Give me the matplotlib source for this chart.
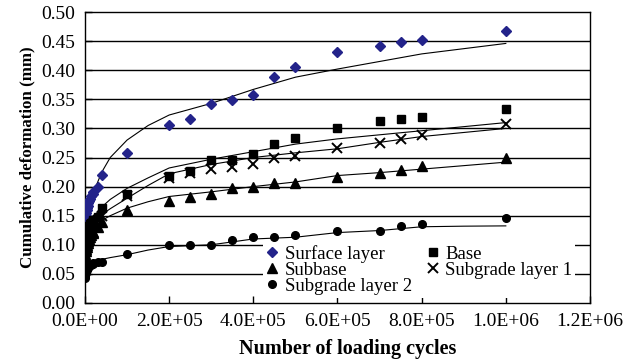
# cumulative deformation vs loading cycles, one series per layer
import matplotlib
matplotlib.use('Agg')
import matplotlib.pyplot as plt
from matplotlib.ticker import FuncFormatter, MultipleLocator

plt.rcParams['font.family'] = ['Liberation Serif', 'DejaVu Serif']

# measured points (loading cycles)
n_meas = [100, 500, 1000, 2000, 3000, 4000, 5000, 6000, 8000, 10000, 12000, 15000,
          18000, 20000, 30000, 40000, 100000, 200000, 250000, 300000, 350000, 400000,
          450000, 500000, 600000, 700000, 750000, 800000, 1000000]

surface = [0.130, 0.138, 0.143, 0.150, 0.155, 0.159, 0.163, 0.166, 0.171, 0.175, 0.179, 0.184,
           0.188, 0.191, 0.200, 0.220, 0.257, 0.306, 0.316, 0.342, 0.349, 0.358,
           0.388, 0.405, 0.432, 0.441, 0.448, 0.452, 0.468]
base = [0.100, 0.105, 0.108, 0.112, 0.116, 0.119, 0.122, 0.125, 0.129, 0.132, 0.135, 0.138,
        0.141, 0.143, 0.148, 0.163, 0.187, 0.219, 0.227, 0.245, 0.245, 0.256,
        0.274, 0.284, 0.300, 0.312, 0.316, 0.320, 0.333]
subbase = [0.075, 0.080, 0.084, 0.089, 0.093, 0.097, 0.100, 0.103, 0.107, 0.110, 0.113, 0.117,
           0.120, 0.122, 0.130, 0.140, 0.159, 0.175, 0.182, 0.187, 0.197, 0.200,
           0.206, 0.206, 0.216, 0.224, 0.229, 0.236, 0.249]
subgrade1 = [0.090, 0.095, 0.099, 0.104, 0.108, 0.111, 0.114, 0.117, 0.121, 0.124, 0.127, 0.131,
             0.134, 0.136, 0.142, 0.150, 0.183, 0.214, 0.224, 0.231, 0.234, 0.238,
             0.250, 0.253, 0.266, 0.275, 0.282, 0.289, 0.307]
subgrade2 = [0.043, 0.046, 0.049, 0.052, 0.055, 0.057, 0.059, 0.060, 0.062, 0.064, 0.065, 0.066,
             0.067, 0.068, 0.070, 0.071, 0.084, 0.100, 0.100, 0.100, 0.109, 0.113,
             0.113, 0.116, 0.124, 0.124, 0.132, 0.135, 0.146]

# predicted curves
n_pred = [1000, 5000, 10000, 20000, 40000, 60000, 100000, 150000, 200000, 300000, 400000,
          500000, 600000, 700000, 800000, 900000, 1000000]
surface_pred = [0.130, 0.150, 0.165, 0.190, 0.225, 0.250, 0.280, 0.305, 0.323, 0.343, 0.367,
                0.388, 0.402, 0.415, 0.428, 0.437, 0.446]
base_pred = [0.105, 0.125, 0.135, 0.148, 0.165, 0.178, 0.197, 0.215, 0.232, 0.247, 0.260,
             0.273, 0.282, 0.289, 0.296, 0.303, 0.310]
subgrade1_pred = [0.100, 0.118, 0.128, 0.140, 0.152, 0.162, 0.180, 0.202, 0.222, 0.238, 0.250,
                  0.258, 0.265, 0.276, 0.286, 0.293, 0.300]
subbase_pred = [0.090, 0.108, 0.118, 0.128, 0.142, 0.150, 0.163, 0.174, 0.183, 0.191, 0.200,
                0.208, 0.219, 0.224, 0.230, 0.236, 0.242]
subgrade2_pred = [0.055, 0.063, 0.066, 0.070, 0.075, 0.078, 0.083, 0.091, 0.097, 0.100, 0.110,
                  0.113, 0.121, 0.1245, 0.131, 0.132, 0.1325]

fig = plt.figure(figsize=(6.31, 3.64), dpi=100)
ax = fig.add_axes([0.1347, 0.1676, 0.8003, 0.7994])

for yv in [0.05, 0.10, 0.15, 0.20, 0.25, 0.30, 0.35, 0.40, 0.45]:
    ax.axhline(yv, color='black', lw=1.0, zorder=1)

for pred in [surface_pred, base_pred, subgrade1_pred, subbase_pred, subgrade2_pred]:
    ax.plot(n_pred, pred, color='black', lw=0.8, zorder=2)

h1, = ax.plot(n_meas, surface, 'D', color='#23238a', ms=5.5, ls='none', zorder=3, label='Surface layer')
h2, = ax.plot(n_meas, subbase, '^', color='black', ms=6.5, ls='none', zorder=3, label='Subbase')
h3, = ax.plot(n_meas, subgrade2, 'o', color='black', ms=5.5, ls='none', zorder=3, label='Subgrade layer 2')
h4, = ax.plot(n_meas, base, 's', color='black', ms=5.5, ls='none', zorder=3, label='Base')
h5, = ax.plot(n_meas, subgrade1, 'x', color='black', ms=7, mew=1.4, ls='none', zorder=3, label='Subgrade layer 1')

ax.set_xlim(0, 1.2e6)
ax.set_ylim(0, 0.5)
ax.xaxis.set_major_locator(MultipleLocator(2e5))
ax.yaxis.set_major_locator(MultipleLocator(0.05))
ax.xaxis.set_major_formatter(FuncFormatter(lambda v, p: '{:.1E}'.format(v)))
ax.yaxis.set_major_formatter(FuncFormatter(lambda v, p: '{:.2f}'.format(v)))
ax.tick_params(axis='both', direction='in', labelsize=14, length=5, width=1)
ax.tick_params(axis='x', pad=7)
ax.tick_params(axis='y', pad=7)
for s in ax.spines.values():
    s.set_linewidth(1.0)

ax.set_xlabel('Number of loading cycles', fontsize=14.5, fontweight='bold', labelpad=0)
ax.xaxis.set_label_coords(0.52, -0.125)
ax.set_ylabel('Cumulative deformation (mm)', fontsize=12.2, fontweight='bold', labelpad=4)

leg = ax.legend(handles=[h1, h2, h3, h4, h5], ncol=2, loc='upper left',
                bbox_to_anchor=(0.3525, 0.21), fontsize=13.5, frameon=True,
                fancybox=False, edgecolor='none', facecolor='white', framealpha=1,
                borderpad=0.15, handlelength=0.7, handletextpad=0.3,
                columnspacing=0.8, labelspacing=-0.05, borderaxespad=0)
leg.set_zorder(4)

fig.savefig('out.png', dpi=100)
